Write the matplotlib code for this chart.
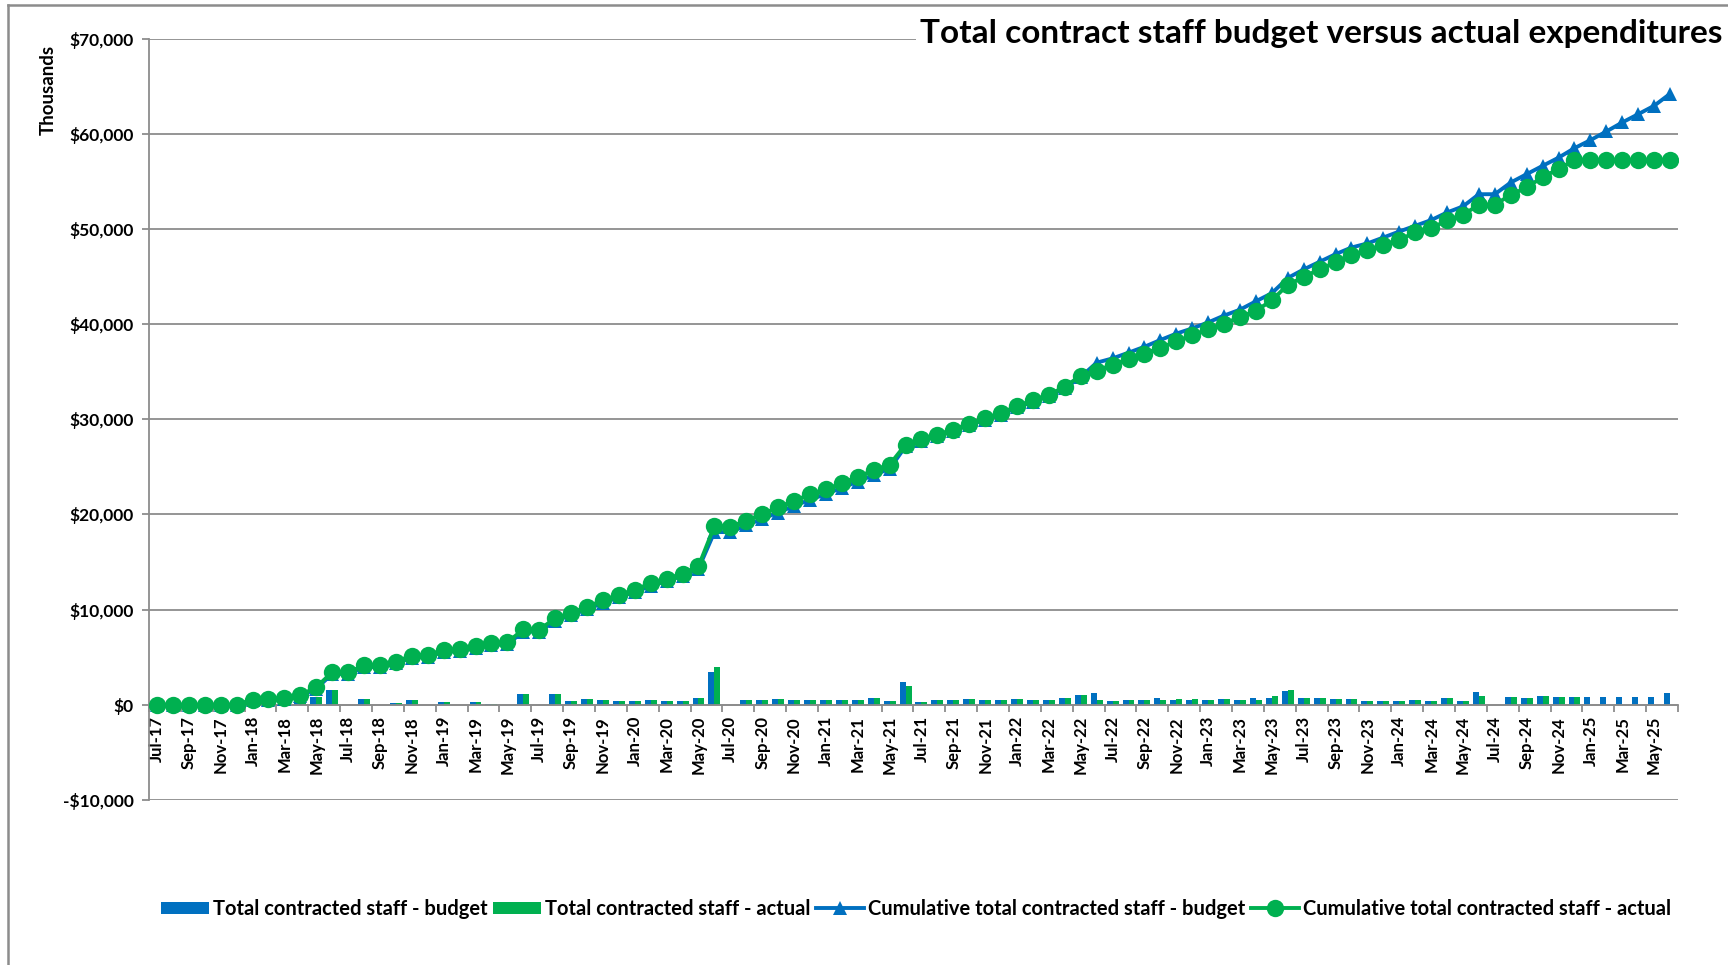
import matplotlib
matplotlib.use("Agg")
import matplotlib.pyplot as plt
import numpy as np
import pandas as pd
from matplotlib.patches import Patch
from matplotlib.lines import Line2D

plt.rcParams['font.family'] = ['Lato', 'DejaVu Sans']

# ---------------- data (values in $ thousands) ----------------
months = list(pd.date_range('2017-07-01', periods=96, freq='MS').strftime('%b-%y'))

budget_monthly = [
    0, 0, 0, 0, 0, 0, 500, 0, 120, 200, 800, 1550,
    0, 650, 0, 200, 520, 0, 310, 0, 310, 100, 0, 1150,
    0, 1150, 420, 630, 520, 420, 420, 520, 420, 420, 730, 3500,
    0, 520, 520, 630, 520, 520, 520, 520, 520, 730, 420, 2380,
    310, 520, 520, 630, 520, 520, 630, 520, 520, 730, 1050, 1260,
    420, 520, 520, 730, 520, 520, 520, 630, 520, 730, 730, 1470,
    730, 730, 630, 630, 420, 420, 420, 520, 420, 730, 420, 1330,
    0, 840, 730, 940, 840, 840, 840, 840, 840, 840, 840, 1220,
]

actual_monthly = [
    0, 0, 0, 0, 0, 0, 500, 0, 120, 200, 800, 1550,
    0, 650, 0, 200, 520, 0, 310, 0, 310, 100, 0, 1150,
    0, 1150, 420, 630, 520, 420, 420, 520, 420, 420, 730, 4020,
    0, 520, 520, 630, 520, 520, 520, 520, 520, 730, 420, 1960,
    310, 520, 520, 630, 520, 520, 630, 520, 520, 730, 1050, 520,
    420, 520, 520, 520, 630, 630, 520, 630, 520, 520, 940, 1570,
    730, 730, 630, 630, 420, 420, 420, 520, 420, 730, 420, 940,
    0, 840, 730, 940, 840, 840, None, None, None, None, None, None,
]

cum_budget = [
    0, 0, 0, 0, 0, 0, 500, 500, 620, 900, 1700, 3250,
    3250, 3950, 4000, 4350, 4950, 5050, 5550, 5650, 6000, 6300, 6350, 7700,
    7700, 8850, 9400, 10050, 10700, 11300, 11850, 12500, 13000, 13550, 14300, 18150,
    18150, 18850, 19550, 20200, 20900, 21550, 22150, 22800, 23450, 24150, 24800, 27150,
    27750, 28250, 28800, 29400, 29950, 30500, 31250, 31850, 32450, 33250, 34450, 35950,
    36400, 37000, 37620, 38330, 39000, 39550, 40180, 40900, 41520, 42400, 43250, 44850,
    45750, 46550, 47350, 48050, 48480, 49100, 49730, 50330, 50930, 51730, 52370, 53650,
    53650, 54880, 55760, 56630, 57490, 58490, 59330, 60240, 61190, 62060, 62940, 64200,
]

cum_actual = [
    0, 0, 0, 0, 0, 0, 550, 580, 720, 1020, 1850, 3420,
    3400, 4150, 4200, 4550, 5160, 5250, 5760, 5840, 6210, 6510, 6560, 7920,
    7900, 9080, 9650, 10300, 10980, 11540, 12100, 12760, 13230, 13790, 14550, 18770,
    18700, 19350, 20050, 20750, 21450, 22100, 22630, 23290, 23950, 24650, 25240, 27340,
    27940, 28390, 28920, 29550, 30100, 30650, 31400, 32000, 32600, 33400, 34600, 35100,
    35750, 36330, 36900, 37520, 38180, 38820, 39470, 40050, 40750, 41400, 42500, 44130,
    44940, 45780, 46480, 47290, 47740, 48340, 48870, 49630, 50090, 50890, 51490, 52540,
    52540, 53590, 54360, 55450, 56290, 57270, 57270, 57270, 57270, 57270, 57270, 57270,
]

y_ticks = [-10000, 0, 10000, 20000, 30000, 40000, 50000, 60000, 70000]

series_names = ["Total contracted staff - budget", "Total contracted staff - actual",
                "Cumulative total contracted staff - budget",
                "Cumulative total contracted staff - actual"]

title_text = "Total contract staff budget versus actual expenditures"

# ---------------- styling ----------------
BLUE = "#0070C0"
GREEN = "#00B050"
GRID = "#8C8C8C"

W, H = 1728, 965
fig = plt.figure(figsize=(W / 100, H / 100), dpi=100)
fig.patch.set_facecolor("white")

# outer chart frame (left and top edges visible)
fig.add_artist(Line2D([8 / W, 8 / W], [0, 1 - 5 / H], transform=fig.transFigure,
                      color=GRID, lw=1.8))
fig.add_artist(Line2D([8 / W, 1], [1 - 5 / H, 1 - 5 / H], transform=fig.transFigure,
                      color=GRID, lw=1.8))

left, right, top, bottom = 149, 1678, 38.6, 800
ax = fig.add_axes([left / W, 1 - bottom / H, (right - left) / W, (bottom - top) / H])

x = np.arange(len(months))
bw = 0.375
b = np.array(budget_monthly, dtype=float)
a = np.array([np.nan if v is None else v for v in actual_monthly], dtype=float)
ax.bar(x - bw / 2, b, width=bw, color=BLUE, zorder=2)
ax.bar(x + bw / 2, a, width=bw, color=GREEN, zorder=2)

LW = 2.8
ax.plot(x, cum_budget, color=BLUE, lw=LW, marker="^", markersize=10.5,
        markeredgewidth=0, zorder=3)
ax.plot(x, cum_actual, color=GREEN, lw=LW, marker="o", markersize=12.5,
        markeredgewidth=0, zorder=4)

ax.set_xlim(-0.5, len(months) - 0.5)
ax.set_ylim(-10000, 70000)
ax.set_yticks(y_ticks)
ax.set_yticklabels([("-$" if v < 0 else "$") + f"{abs(v):,}" for v in y_ticks],
                   fontsize=12.5, fontweight="bold")
ax.yaxis.grid(True, color=GRID, lw=1.3, zorder=0)
ax.set_axisbelow(True)

for s in ["top", "right"]:
    ax.spines[s].set_visible(False)
ax.spines["left"].set_color(GRID)
ax.spines["left"].set_linewidth(1.3)
ax.spines["bottom"].set_position(("data", 0))
ax.spines["bottom"].set_color(GRID)
ax.spines["bottom"].set_linewidth(1.3)

ax.set_xticks(np.arange(-0.5, len(months), 2))
ax.set_xticklabels([])
ax.set_xticks(x[::2], minor=True)
ax.set_xticklabels(months[::2], minor=True, rotation=90, fontsize=12,
                   fontweight="bold")
ax.tick_params(axis="x", which="major", direction="out", length=5, width=1.3,
               color=GRID)
ax.tick_params(axis="x", which="minor", length=0, pad=8)
ax.tick_params(axis="y", direction="out", length=5, width=1.3, color=GRID, pad=6)

fig.text(48 / W, 1 - 90 / H, "Thousands", rotation=90, ha="center", va="center",
         fontsize=13.5, fontweight="bold")

fig.text(1722 / W, 1 - 34 / H, title_text, ha="right", va="center", fontsize=24,
         fontweight="bold",
         bbox=dict(facecolor="white", edgecolor="none", pad=3))

handles = [
    Patch(facecolor=BLUE, edgecolor="none"),
    Patch(facecolor=GREEN, edgecolor="none"),
    Line2D([], [], color=BLUE, lw=LW, marker="^", markersize=10.5, markeredgewidth=0),
    Line2D([], [], color=GREEN, lw=LW, marker="o", markersize=12.5, markeredgewidth=0),
]
fig.legend(handles, series_names, loc="center", bbox_to_anchor=(916 / W, 1 - 909 / H),
           ncol=4, frameon=False, prop=dict(size=14.5, weight="bold"),
           handlelength=2.4, handleheight=0.6, handletextpad=0.2, columnspacing=0.25)

fig.savefig("out.png", dpi=100, facecolor="white")
